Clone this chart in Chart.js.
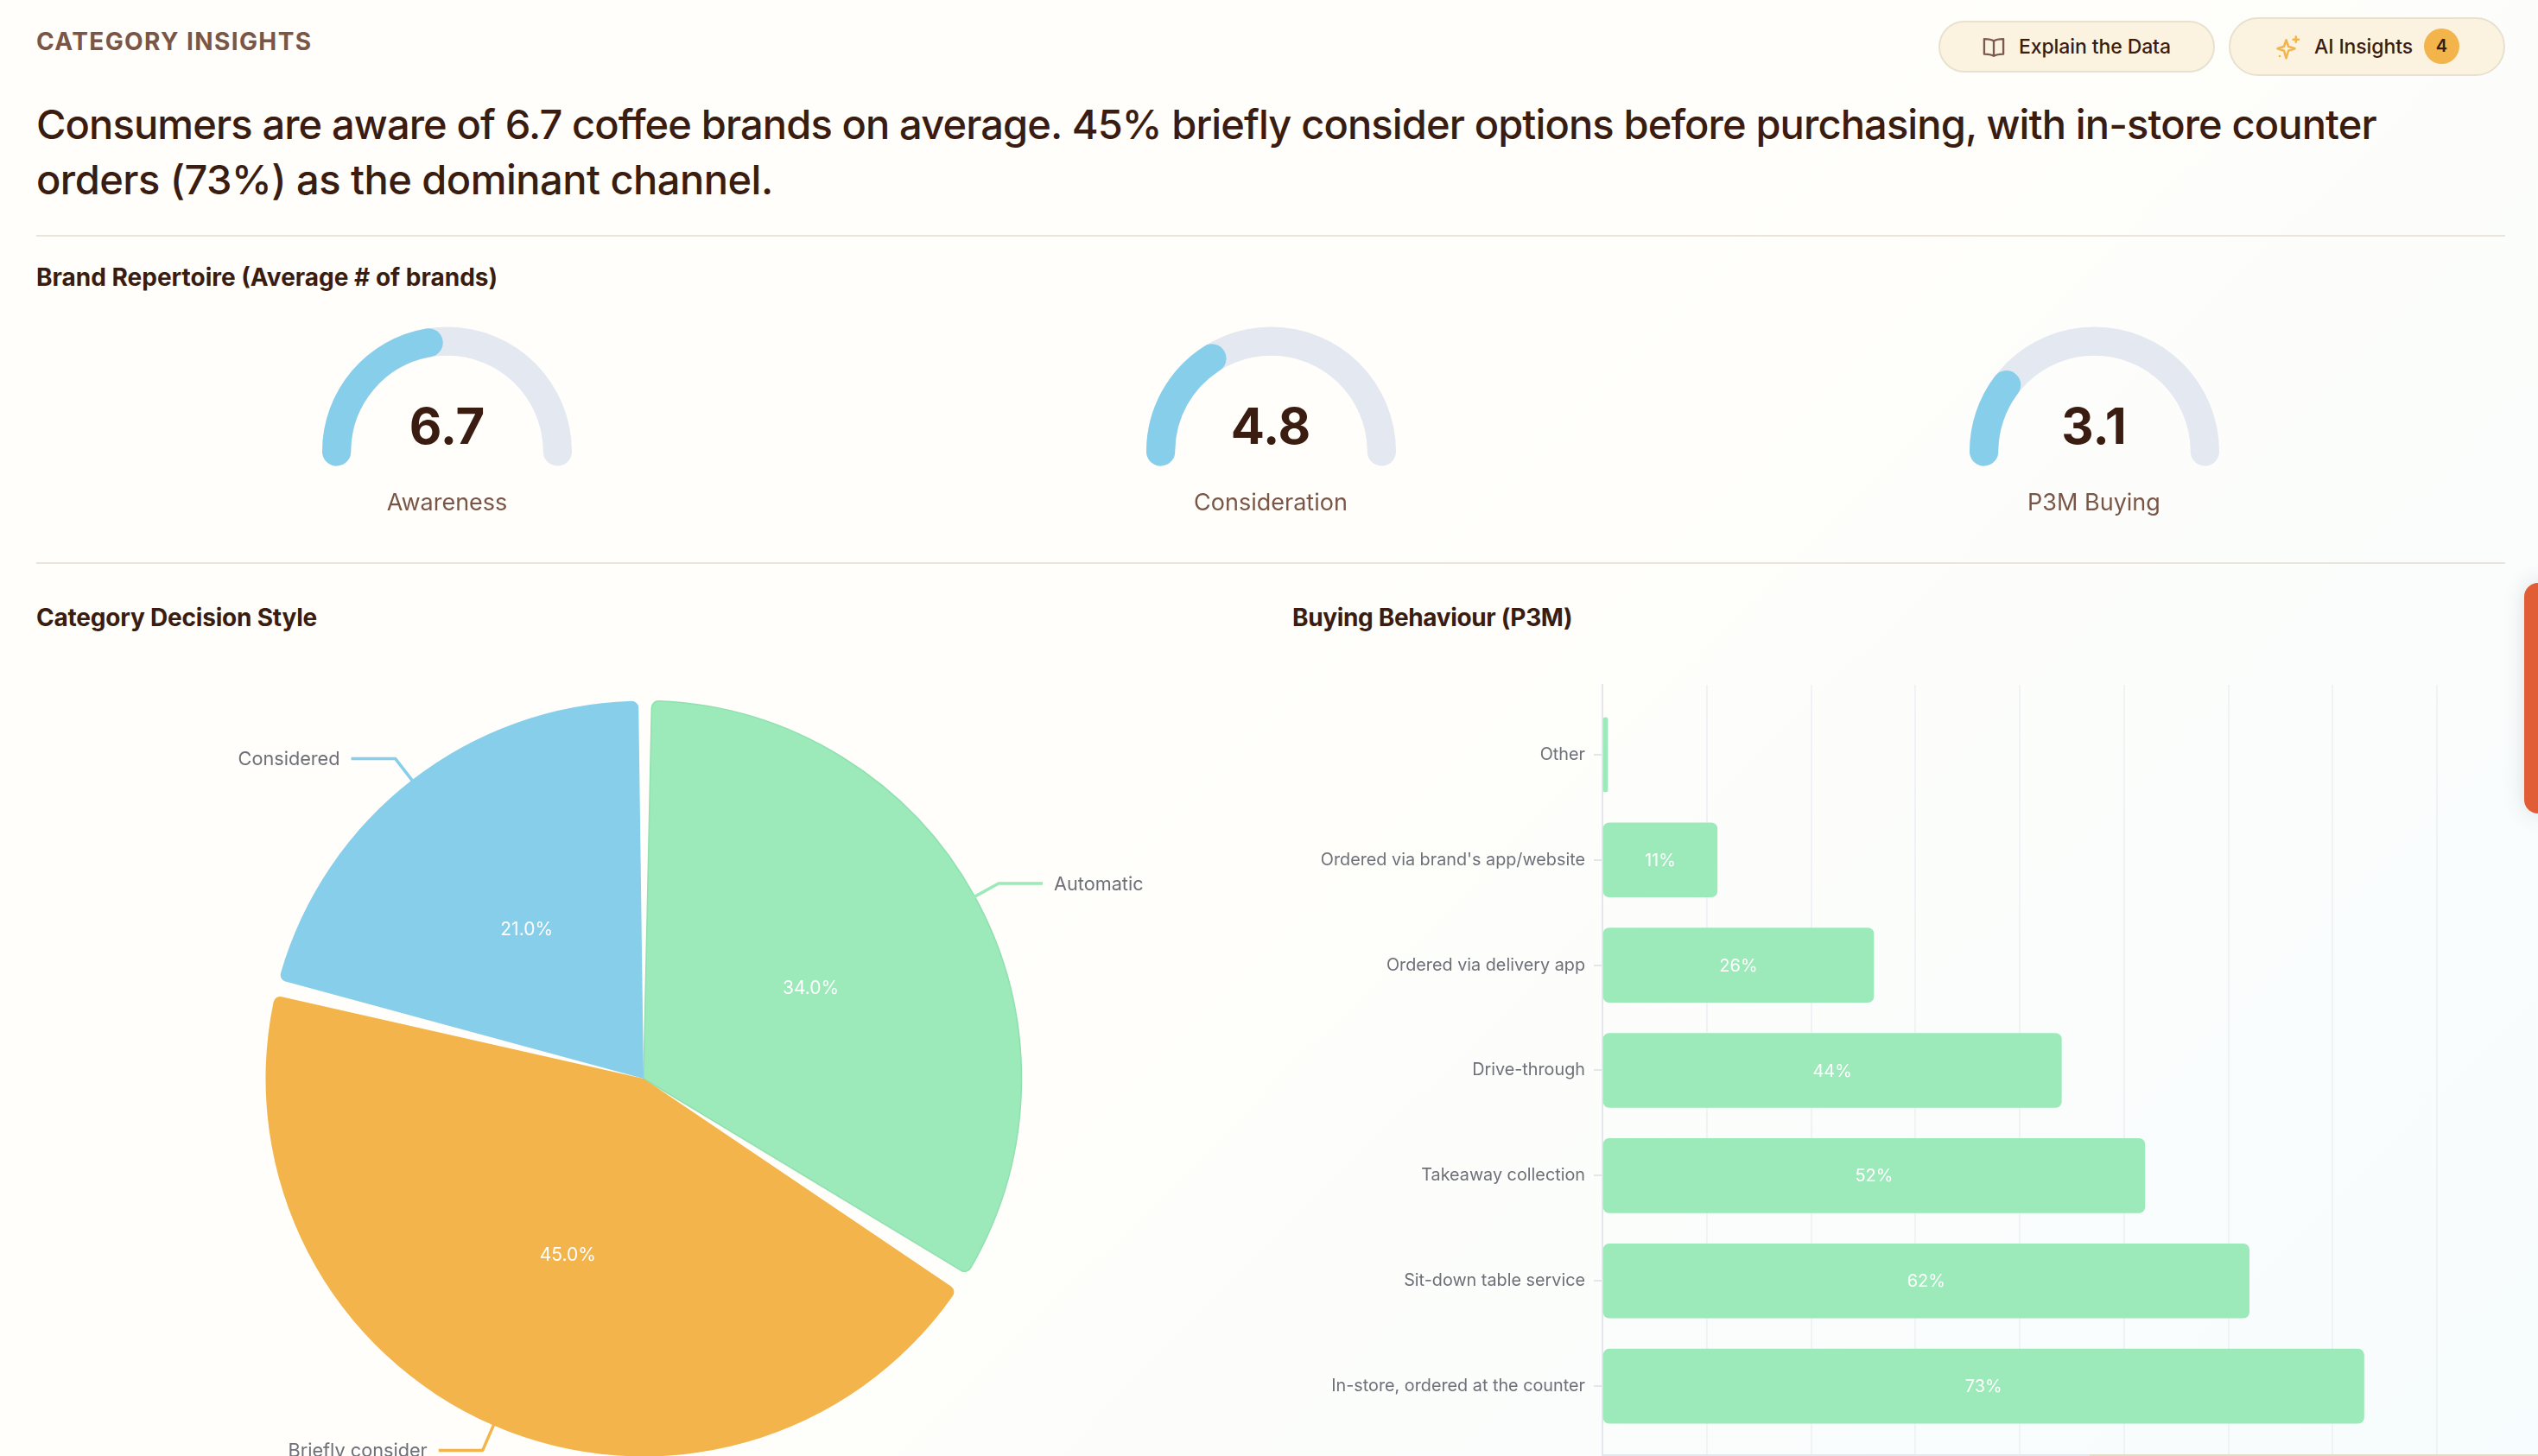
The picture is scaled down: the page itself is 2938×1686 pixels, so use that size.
<!DOCTYPE html>
<html>
<head>
<meta charset="utf-8">
<title>Category Insights</title>
<script src="https://cdn.jsdelivr.net/npm/chart.js@4/dist/chart.umd.min.js"></script>
<style>
    html, body { margin: 0; padding: 0; width: 2938px; height: 1686px; overflow: hidden; }
    body {
        position: relative;
        font-family: "Inter", sans-serif;
        color: #3a1c10;
        background: linear-gradient(135deg, #fffefa 0%, #fffefa 48%, #f7fcfe 100%);
    }
    .abs { position: absolute; white-space: nowrap; }
    .eyebrow { left: 42px; top: 32px; font-size: 28px; line-height: 32px; font-weight: 700; color: #7a5647; letter-spacing: 1.4px; }
    .headline { left: 42px; top: 112px; font-size: 47px; line-height: 64px; font-weight: 500; letter-spacing: -0.87px; }
    .rule { height: 2px; left: 42px; width: 2858px; background: #eae4da; }
    .section { font-size: 28px; line-height: 34px; font-weight: 700; letter-spacing: -0.2px; }
    .gauge { position: absolute; top: 377.5px; width: 289px; height: 164px; }
    .gauge canvas { position: absolute; left: 0; top: 0; }
    .gauge-value { top: 458px; width: 289px; text-align: center; font-size: 58px; line-height: 70px; font-weight: 700; }
    .gauge-label { top: 564px; width: 289px; text-align: center; font-size: 27px; line-height: 36px; color: #7a5647; }
    .btn { position: absolute; box-sizing: border-box; background: #fbf2e0; border: 2.5px solid #e8e1d0; border-radius: 40px; }
    .btn span { position: absolute; font-size: 23px; line-height: 30px; font-weight: 500; white-space: nowrap; letter-spacing: -0.1px; }
    .tab { position: absolute; left: 2922px; top: 675px; width: 40px; height: 267px; background: #e15d36; border-radius: 16px; box-shadow: 0 0 24px rgba(60, 70, 90, 0.16); }
    .foot { position: absolute; left: 2419px; top: 1684px; width: 519px; height: 2px; background: #e2dcc8; }
    #pieChart { position: absolute; left: 45px; top: 749px; }
    #barChart { position: absolute; left: 1480px; top: 771px; }
</style>
</head>
<body>
    <div class="abs eyebrow">CATEGORY INSIGHTS</div>
    <div class="btn" style="left:2244px;top:24px;width:320px;height:60px;">
        <svg style="position:absolute;left:48px;top:15px" width="28" height="28" viewBox="0 0 24 24" fill="none" stroke="#7a5a50" stroke-width="2" stroke-linejoin="round">
            <path d="M12 5.5C10 4 6.5 3.5 2.5 3.5v15c4 0 7.5.5 9.5 2 2-1.500 5.500-2 9.500-2v-15c-4 0-7.500.5-9.500 2z"/><path d="M12 5.500v15"/>
        </svg>
        <span style="left:91px;top:13px">Explain the Data</span>
    </div>
    <div class="btn" style="left:2580px;top:20px;width:320px;height:68px;">
        <svg style="position:absolute;left:52px;top:18px" width="30" height="30" viewBox="0 0 24 24" fill="none" stroke="#f2b44b" stroke-width="2" stroke-linejoin="round" stroke-linecap="round">
            <path d="M10 5l2 6 6 2-6 2-2 7-2-7-6-2 6-2z"/><path d="M19 2v5M16.500 4.500h5"/><path d="M4 20h.1"/>
        </svg>
        <span style="left:97px;top:17px">AI Insights</span>
        <div style="position:absolute;left:224px;top:11px;width:41px;height:41px;border-radius:50%;background:#f2b44b;text-align:center;font-size:20px;line-height:41px;font-weight:600;">4</div>
    </div>

    <div class="abs headline">Consumers are aware of 6.7 coffee brands on average. 45% briefly consider options before purchasing, with in-store counter<br><span style="letter-spacing:-0.52px">orders (73%) as the dominant channel.</span></div>
    <div class="abs rule" style="top:272px"></div>

    <div class="abs section" style="left:42px;top:304px;letter-spacing:0">Brand Repertoire (Average # of brands)</div>
    <div class="gauge" style="left:373px"><canvas id="track0"></canvas><canvas id="value0"></canvas></div>
    <div class="gauge" style="left:1326.500px"><canvas id="track1"></canvas><canvas id="value1"></canvas></div>
    <div class="gauge" style="left:2279.500px"><canvas id="track2"></canvas><canvas id="value2"></canvas></div>
    <div class="abs gauge-value" id="num0" style="left:373px"></div>
    <div class="abs gauge-value" id="num1" style="left:1326.500px"></div>
    <div class="abs gauge-value" id="num2" style="left:2279.500px"></div>
    <div class="abs gauge-label" id="lab0" style="left:373px"></div>
    <div class="abs gauge-label" id="lab1" style="left:1326.500px"></div>
    <div class="abs gauge-label" id="lab2" style="left:2279.500px"></div>

    <div class="abs rule" style="top:651px"></div>
    <div class="abs section" style="left:42px;top:698px">Category Decision Style</div>
    <div class="abs section" style="left:1496px;top:698px;letter-spacing:-0.35px">Buying Behaviour (P3M)</div>

    <canvas id="pieChart"></canvas>
    <canvas id="barChart"></canvas>
    <div class="foot"></div>
    <div class="tab"></div>

<script>
    // Datos de las tres medidas de marca
    const gaugeLabels = ['Awareness', 'Consideration', 'P3M Buying'];
    const gaugeValues = [6.7, 4.8, 3.1];
    const gaugeMax = 15;

    // Estilo de decisión
    const styleLabels = ['Automatic', 'Briefly consider', 'Considered'];
    const styleValues = [34, 45, 21];
    const styleColors = ['#9ce9b9', '#f2b44b', '#87ceeb'];

    // Comportamiento de compra
    const channelLabels = ['Other', "Ordered via brand's app/website", 'Ordered via delivery app', 'Drive-through', 'Takeaway collection', 'Sit-down table service', 'In-store, ordered at the counter'];
    const channelValues = [0.5, 11, 26, 44, 52, 62, 73];

    const chartFont = '"Inter", sans-serif';

    function sizeCanvas(id, w, h) {
        const c = document.getElementById(id);
        c.style.width = w + 'px';
        c.style.height = h + 'px';
        c.width = w;
        c.height = h;
        return c;
    }

    // Los extremos redondeados sobresalen de la semicircunferencia
    const capDeg = 7.4;
    const capValue = gaugeMax * capDeg / 180;

    function gauge(id, data, colors) {
        new Chart(sizeCanvas(id, 289, 164), {
            type: 'doughnut',
            data: { datasets: [{ data: data, backgroundColor: colors, borderWidth: 0, borderRadius: 16.5 }] },
            options: {
                responsive: false,
                animation: false,
                rotation: -90 - capDeg,
                circumference: 180 + 2 * capDeg,
                cutout: '77%',
                plugins: { legend: { display: false }, tooltip: { enabled: false } }
            }
        });
    }

    gaugeValues.forEach((v, i) => {
        gauge('track' + i, [gaugeMax + 2 * capValue], ['#e3e8f1']);
        gauge('value' + i, [v + 2 * capValue, gaugeMax - v], ['#87ceeb', 'rgba(0,0,0,0)']);
        document.getElementById('num' + i).textContent = v.toFixed(1);
        document.getElementById('lab' + i).textContent = gaugeLabels[i];
    });

    // Etiquetas y líneas guía del pastel
    const pieLabels = {
        id: 'pieLabels',
        afterDatasetsDraw(chart) {
            const ctx = chart.ctx;
            chart.getDatasetMeta(0).data.forEach((arc, i) => {
                const mid = (arc.startAngle + arc.endAngle) / 2;
                const R = arc.outerRadius;
                const cos = Math.cos(mid);
                const sin = Math.sin(mid);
                ctx.save();
                ctx.font = '21px ' + chartFont;
                ctx.textBaseline = 'middle';
                ctx.textAlign = 'center';
                ctx.fillStyle = '#ffffff';
                ctx.fillText(styleValues[i].toFixed(1) + '%', arc.x + cos * R * 0.51, arc.y + sin * R * 0.51 + 2);

                const side = cos >= 0 ? 1 : -1;
                const ex = arc.x + cos * (R + 36);
                const ey = arc.y + sin * (R + 36);
                ctx.strokeStyle = styleColors[i];
                ctx.lineWidth = 3.5;
                ctx.lineJoin = 'round';
                ctx.beginPath();
                ctx.moveTo(arc.x + cos * R, arc.y + sin * R);
                ctx.lineTo(ex, ey);
                ctx.lineTo(ex + side * 51, ey);
                ctx.stroke();
                ctx.font = '21.7px ' + chartFont;
                ctx.fillStyle = '#6e7079';
                ctx.textAlign = side > 0 ? 'left' : 'right';
                ctx.fillText(styleLabels[i], ex + side * 64, ey + 1);
                ctx.restore();
            });
        }
    };

    new Chart(sizeCanvas('pieChart', 1400, 1000), {
        type: 'pie',
        data: {
            labels: styleLabels,
            datasets: [{
                data: styleValues,
                backgroundColor: styleColors,
                borderColor: ['#90e0b0', '#f2b44b', '#87ceeb'],
                borderWidth: [1.5, 0, 0],
                borderRadius: 8,
                spacing: 9
            }]
        },
        options: {
            responsive: false,
            animation: false,
            radius: 433,
            plugins: { legend: { display: false }, tooltip: { enabled: false } }
        },
        plugins: [pieLabels]
    });

    // Porcentaje blanco dentro de cada barra
    const barLabels = {
        id: 'barLabels',
        afterDatasetsDraw(chart) {
            const ctx = chart.ctx;
            chart.getDatasetMeta(0).data.forEach((bar, i) => {
                if (bar.x - bar.base < 40) return;
                ctx.save();
                ctx.font = '20px ' + chartFont;
                ctx.fillStyle = '#ffffff';
                ctx.textAlign = 'center';
                ctx.textBaseline = 'middle';
                ctx.fillText(channelValues[i] + '%', (bar.x + bar.base) / 2, bar.y + 1);
                ctx.restore();
            });
        }
    };

    new Chart(sizeCanvas('barChart', 1380, 936), {
        type: 'bar',
        data: {
            datasets: [{
                data: channelValues.map((v, i) => ({ x: v, y: i })),
                backgroundColor: '#9ce9b9',
                borderRadius: 7,
                borderSkipped: false,
                barThickness: 86
            }]
        },
        options: {
            indexAxis: 'y',
            responsive: false,
            animation: false,
            layout: { padding: { right: 39 } },
            plugins: { legend: { display: false }, tooltip: { enabled: false } },
            scales: {
                x: {
                    type: 'linear',
                    min: 0,
                    max: 80,
                    ticks: { display: false, stepSize: 10 },
                    grid: { color: '#f0f3f6', lineWidth: 2, drawTicks: false },
                    border: { color: '#e3e7ec', width: 2 }
                },
                y: {
                    type: 'linear',
                    reverse: true,
                    offset: false,
                    min: -0.664,
                    max: 6.656,
                    afterBuildTicks(scale) {
                        scale.ticks = scale.ticks.filter(t => Number.isInteger(t.value));
                    },
                    afterFit(scale) { scale.width = 375; },
                    ticks: {
                        stepSize: 1,
                        padding: 10,
                        color: '#6e7079',
                        font: { family: chartFont, size: 19.8 },
                        callback: value => channelLabels[value]
                    },
                    grid: { offset: false, drawOnChartArea: false, color: '#e3e7ec', lineWidth: 2, tickLength: 10 },
                    border: { color: '#e3e7ec', width: 2 }
                }
            }
        },
        plugins: [barLabels]
    });
</script>
</body>
</html>
